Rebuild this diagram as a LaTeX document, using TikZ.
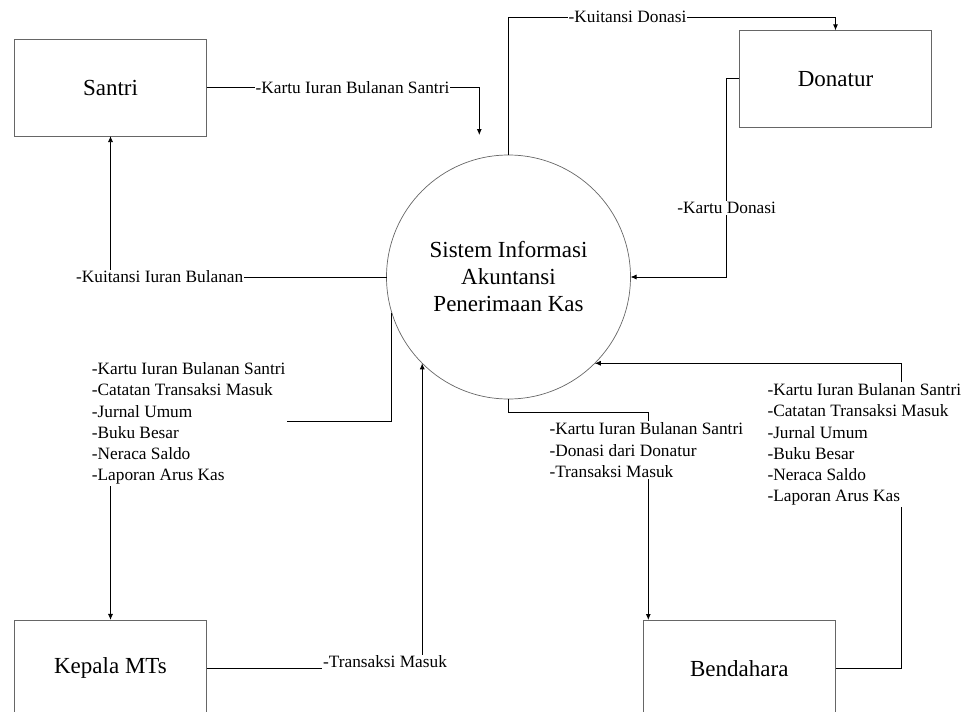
\documentclass[tikz,border=0pt]{standalone}
\usepackage{fontspec}
\setmainfont{Liberation Serif}
\usetikzlibrary{arrows.meta}
\tikzset{
  entity/.style={draw=black!60, line width=0.8pt, rectangle, minimum width=192.4pt, minimum height=96.7pt, inner sep=0pt, outer sep=0pt, font=\fontsize{23}{27}\selectfont},
  proc/.style={draw=black!60, line width=0.7pt, circle, minimum size=244pt, inner sep=0pt, outer sep=0pt, align=center, font=\fontsize{23}{27}\selectfont},
  flow/.style={draw=black, line width=0.8pt, -{Latex[length=6pt,width=5pt]}},
  lbl/.style={fill=white, inner sep=1pt, font=\fontsize{17.3}{21.3}\selectfont},
  lblock/.style={fill=white, inner sep=1.5pt, align=left, anchor=west, font=\fontsize{17.3}{21.3}\selectfont}
}
\begin{document}
\begin{tikzpicture}[x=1pt,y=-1pt]
\useasboundingbox (0,0) rectangle (967,712);
\clip (0,0) rectangle (967,712);
% entities
\node[entity] (san) at (110.5,87.7) {Santri};
\node[entity] (don) at (835.5,78.7) {Donatur};
\node[entity] (kep) at (110.5,668.3) {Kepala MTs};
\node[entity] (ben) at (739.3,668.3) {Bendahara};
\node[proc] (sys) at (508.5,277) {Sistem Informasi\\Akuntansi\\Penerimaan Kas};
% helper coordinates
\coordinate (k1) at (479.3,135);
\coordinate (t3) at (835.5,17.3);
\coordinate (d4) at (726.7,78.7);
\coordinate (m5) at (110.5,421);
\coordinate (bt) at (648.3,620);
\coordinate (r8) at (901.7,668.3);
% flows
\draw[flow] (san.east) -| (k1);
\draw[flow] (sys.west) -| (san.south);
\draw[flow] (sys.north) |- (t3) -- (don.north);
\draw[flow] (don.west) -- (d4) |- (sys.east);
\draw[flow] (sys.197.3) |- (m5) -- (kep.north);
\draw[flow] (kep.east) -| (sys.225);
\draw[flow] (sys.south) -- ++(0,13.3) -| (bt);
\draw[flow] (ben.east) -- (r8) |- (sys.315);
% labels
\node[lbl] (l1) at (352.5,87.7) {-Kartu Iuran Bulanan Santri};
\node[lbl] (l2) at (159.7,277) {-Kuitansi Iuran Bulanan};
\node[lbl] (l3) at (627.5,17.3) {-Kuitansi Donasi};
\node[lbl] (l4) at (726.7,208) {-Kartu Donasi};
\node[lbl] (l6) at (385,661.7) {-Transaksi Masuk};
\node[lblock] (l5) at (90.2,423.5) {-Kartu Iuran Bulanan Santri\\-Catatan Transaksi Masuk\\-Jurnal Umum\\-Buku Besar\\-Neraca Saldo\\-Laporan Arus Kas};
\node[lblock] (l7) at (547.8,450.2) {-Kartu Iuran Bulanan Santri\\-Donasi dari Donatur\\-Transaksi Masuk};
\node[lblock] (l8) at (765.8,444.5) {-Kartu Iuran Bulanan Santri\\-Catatan Transaksi Masuk\\-Jurnal Umum\\-Buku Besar\\-Neraca Saldo\\-Laporan Arus Kas};
\end{tikzpicture}
\end{document}
